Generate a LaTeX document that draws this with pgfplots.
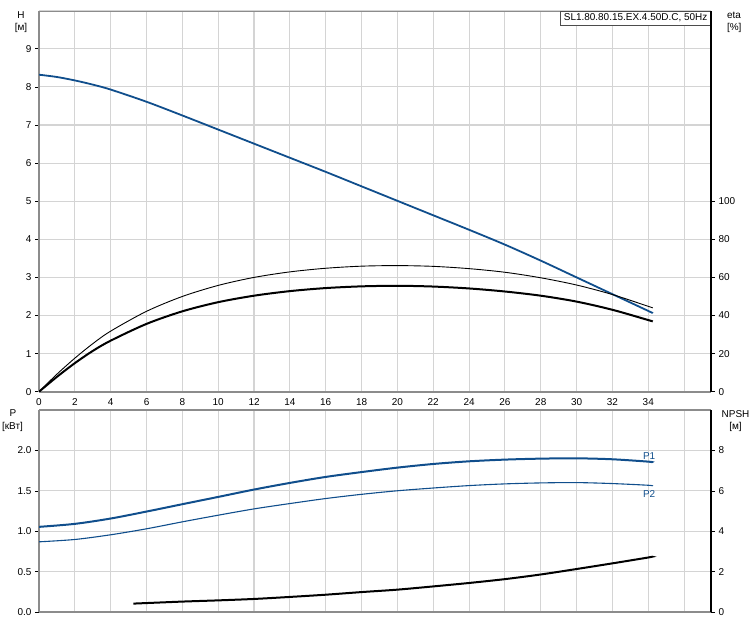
\documentclass[border=0pt]{standalone}
\usepackage{fontspec}
\setmainfont{Liberation Sans}
\usepackage{pgfplots}
\pgfplotsset{compat=1.18}

\definecolor{curveblue}{RGB}{16,78,140}
\definecolor{gridgray}{RGB}{212,212,212}
\definecolor{axgray}{RGB}{140,140,140}

\pgfplotsset{
  pumpbase/.style={
    scale only axis,
    width=672bp,
    xmin=0, xmax=37.5,
    xtick={0,2,...,36},
    /pgf/number format/assume math mode=true,
    tick label style={font=\fontsize{10}{11}\selectfont},
    tick align=outside,
    major tick length=4bp,
    ytick style={black, line width=0.8bp},
    xtick style={draw=none},
  },
  leftside/.style={
    axis y line*=left,
    axis x line*=box,
    grid=major,
    grid style={gridgray, line width=1.1bp},
    y axis line style={axgray, line width=2bp},
    x axis line style={axgray, line width=2bp},
  },
  rightside/.style={
    axis y line*=right,
    axis x line=none,
    y axis line style={black, line width=1.2bp},
  },
}

\begin{document}
\begin{tikzpicture}
\useasboundingbox (0,0) rectangle (753bp,-625bp);

% ---------- upper panel: head and efficiency ----------
\begin{axis}[pumpbase, leftside,
  at={(39bp,-391.7bp)}, anchor=south west,
  height=381bp,
  ymin=0, ymax=10, ytick={0,...,9},
  xticklabels={0,2,4,6,8,10,12,14,16,18,20,22,24,26,28,30,32,34,{}},
  xticklabel style={yshift=1bp},
]
\addplot[curveblue, line width=1.8bp, smooth] coordinates {
  (0,8.32) (1,8.26) (2,8.17) (3,8.06) (4,7.93) (6,7.61) (8,7.25) (10,6.88) (12,6.51)
  (14,6.14) (16,5.77) (18,5.39) (20,5.01) (22,4.63) (24,4.25)
  (26,3.86) (28,3.44) (30,3.00) (32,2.56) (34,2.12) (34.25,2.06)
};
\draw[gridgray, line width=1bp] (rel axis cs:0,1) -- (rel axis cs:1,1);
\node[draw=black!70, fill=white, anchor=north east, inner xsep=3.5bp,
  inner ysep=0pt, minimum height=14.5bp,
  font=\fontsize{10}{11}\selectfont] at (rel axis cs:1,1)
  {SL1.80.80.15.EX.4.50D.C, 50Hz};
\node[font=\fontsize{10}{11}\selectfont] at (axis cs:36.4,-0.26) {Q [л/с]};
\end{axis}

\begin{axis}[pumpbase, rightside,
  at={(39bp,-391.7bp)}, anchor=south west,
  height=381bp,
  ymin=0, ymax=200, ytick={0,20,...,100},
]
% eta, thin line
\addplot[black, line width=0.9bp, smooth] coordinates {
  (0,0) (1,9.2) (2,17.6) (3,25.2) (4,31.8) (6,42.2) (8,50.0) (10,55.8)
  (12,60.0) (14,62.9) (16,64.8) (18,65.9) (20,66.2) (22,65.8)
  (24,64.6) (26,62.7) (28,59.8) (30,56.0) (32,51.0) (34,44.8) (34.25,44.0)
};
% eta, thick line
\addplot[black, line width=2bp, smooth] coordinates {
  (0,0) (1,7.8) (2,15.0) (3,21.4) (4,26.8) (6,35.6) (8,42.2) (10,47.0)
  (12,50.4) (14,52.8) (16,54.4) (18,55.3) (20,55.6) (22,55.2)
  (24,54.2) (26,52.6) (28,50.4) (30,47.3) (32,43.0) (34,37.6) (34.25,36.9)
};
\end{axis}

% ---------- lower panel: power and NPSH ----------
\begin{axis}[pumpbase, leftside,
  at={(39bp,-612.3bp)}, anchor=south west,
  height=202.3bp,
  ymin=0, ymax=2.5, ytick={0,0.5,...,2.0},
  xticklabels={},
  yticklabel style={/pgf/number format/.cd, fixed, fixed zerofill, precision=1},
]
\addplot[curveblue, line width=2bp, smooth] coordinates {
  (0,1.056) (2,1.093) (4,1.159) (6,1.245) (8,1.336) (10,1.426)
  (12,1.517) (14,1.599) (16,1.673) (18,1.733) (20,1.788) (22,1.833)
  (24,1.866) (26,1.887) (28,1.899) (30,1.903) (32,1.891) (34,1.862) (34.2,1.854)
};
\addplot[curveblue, line width=1.1bp, smooth] coordinates {
  (0,0.871) (2,0.900) (4,0.958) (6,1.032) (8,1.118) (10,1.200)
  (12,1.278) (14,1.344) (16,1.406) (18,1.458) (20,1.502) (22,1.536)
  (24,1.566) (26,1.587) (28,1.599) (30,1.603) (32,1.591) (34,1.570) (34.2,1.562)
};
\node[curveblue, font=\fontsize{10}{11}\selectfont] at (axis cs:34.05,1.93) {P1};
\node[curveblue, font=\fontsize{10}{11}\selectfont] at (axis cs:34.05,1.46) {P2};
\end{axis}

\begin{axis}[pumpbase, rightside,
  at={(39bp,-612.3bp)}, anchor=south west,
  height=202.3bp,
  ymin=0, ymax=10, ytick={0,2,...,8},
]
\addplot[black, line width=2bp, smooth] coordinates {
  (5.27,0.43) (8,0.53) (10,0.59) (12,0.66) (14,0.76) (16,0.87)
  (18,1.00) (20,1.12) (22,1.28) (24,1.45) (26,1.64) (28,1.87)
  (30,2.14) (32,2.42) (34,2.71) (34.2,2.75)
};
\end{axis}

% axis titles
\begin{scope}[font=\fontsize{10}{11}\selectfont]
\node at (21bp,-15bp) {H};
\node at (21bp,-27.5bp) {[м]};
\node[anchor=west] at (723.5bp,-15bp) {eta};
\node[anchor=west] at (723.5bp,-27.5bp) {[\%]};
\node at (13bp,-413bp) {P};
\node at (12.5bp,-426.5bp) {[кВт]};
\node at (735.5bp,-414bp) {NPSH};
\node at (735.5bp,-426.5bp) {[м]};
\end{scope}
\end{tikzpicture}
\end{document}
